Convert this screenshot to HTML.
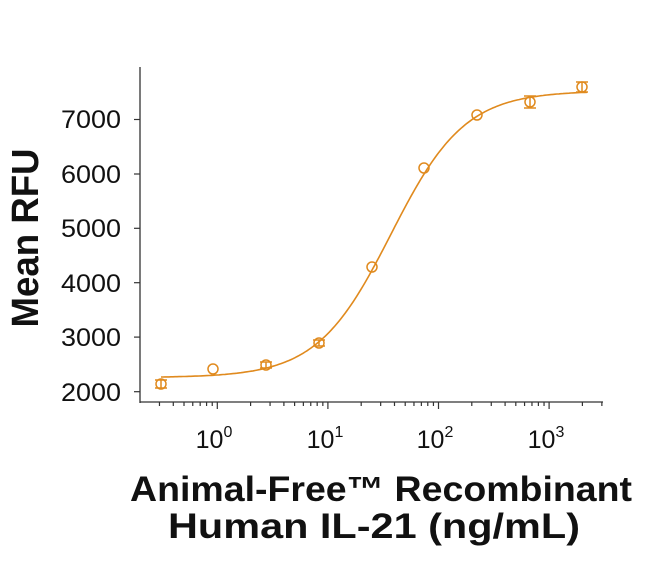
<!DOCTYPE html>
<html><head><style>
body{margin:0;background:#fff}
svg text{font-family:"Liberation Sans",Arial,sans-serif}
</style></head><body>
<svg id="s" width="650" height="556" viewBox="0 0 650 556" xmlns="http://www.w3.org/2000/svg">
<g stroke="#333" stroke-width="1.3" fill="none">
<line x1="140" y1="67" x2="140" y2="403"/>
<line x1="140" y1="402" x2="603" y2="402"/>
</g>
<g id="ticks" stroke="#333" stroke-width="1.2"></g>
<g font-size="25" fill="#111" text-anchor="end">
<text x="121" y="128" textLength="60" lengthAdjust="spacingAndGlyphs">7000</text>
<text x="121" y="183" textLength="60" lengthAdjust="spacingAndGlyphs">6000</text>
<text x="121" y="237" textLength="60" lengthAdjust="spacingAndGlyphs">5000</text>
<text x="121" y="292" textLength="60" lengthAdjust="spacingAndGlyphs">4000</text>
<text x="121" y="346" textLength="60" lengthAdjust="spacingAndGlyphs">3000</text>
<text x="121" y="401" textLength="60" lengthAdjust="spacingAndGlyphs">2000</text>
</g>
<g font-size="25" fill="#111" text-anchor="middle">
<text x="214" y="448">10<tspan font-size="16" dy="-11">0</tspan></text>
<text x="325" y="448">10<tspan font-size="16" dy="-11">1</tspan></text>
<text x="435" y="448">10<tspan font-size="16" dy="-11">2</tspan></text>
<text x="546" y="448">10<tspan font-size="16" dy="-11">3</tspan></text>
</g>
<text transform="translate(38,238) rotate(-90)" font-size="38" font-weight="bold" text-anchor="middle" fill="#111" textLength="179" lengthAdjust="spacingAndGlyphs">Mean RFU</text>
<text x="130" y="501" font-size="35" font-weight="bold" fill="#111" textLength="502" lengthAdjust="spacingAndGlyphs">Animal-Free™ Recombinant</text>
<text x="168" y="538" font-size="35" font-weight="bold" fill="#111" textLength="412" lengthAdjust="spacingAndGlyphs">Human IL-21 (ng/mL)</text>
<path id="curve" fill="none" stroke="#E08A1E" stroke-width="1.6"/>
<g id="pts" stroke="#E08A1E" stroke-width="1.5" fill="none"></g>
</svg>
<script>
var ns="http://www.w3.org/2000/svg";
function el(p,t,a){var e=document.createElementNS(ns,t);for(var k in a)e.setAttribute(k,a[k]);p.appendChild(e);}
var tk=document.getElementById("ticks");
[119.5,174,228.3,282.7,337.1,391.7].forEach(function(y){el(tk,"line",{x1:134,y1:y,x2:140,y2:y});});
var x0=217.3,d=110.6;
for(var dec=-1;dec<=3;dec++){for(var m=1;m<10;m++){var x=x0+(dec+Math.log10(m))*d;if(x<141||x>603)continue;el(tk,"line",{x1:x,y1:402,x2:x,y2:m==1?409:406});}}
function Y(v){return 391.7-(v-2000)/1000*54.4;}
var bot=2260,top_=7530,c=1.57,h=1.3,s="";
for(var px=161;px<=588;px+=2){var lx=(px-x0)/d;var v=bot+(top_-bot)/(1+Math.pow(10,(c-lx)*h));s+=(px==161?"M":"L")+px+","+Y(v).toFixed(1);}
document.getElementById("curve").setAttribute("d",s);
var P=document.getElementById("pts");
[[161,384,4],[213,369,0],[266,365,3],[319,343,3],[372,267,0],[424,168,0],[477,115,0],[530,102,6],[582,87,5]].forEach(function(p){
el(P,"circle",{cx:p[0],cy:p[1],r:5});
if(p[2]){el(P,"line",{x1:p[0],y1:p[1]-p[2],x2:p[0],y2:p[1]+p[2]});
el(P,"line",{x1:p[0]-6,y1:p[1]-p[2],x2:p[0]+6,y2:p[1]-p[2]});
el(P,"line",{x1:p[0]-6,y1:p[1]+p[2],x2:p[0]+6,y2:p[1]+p[2]});}
});
</script>
</body></html>
